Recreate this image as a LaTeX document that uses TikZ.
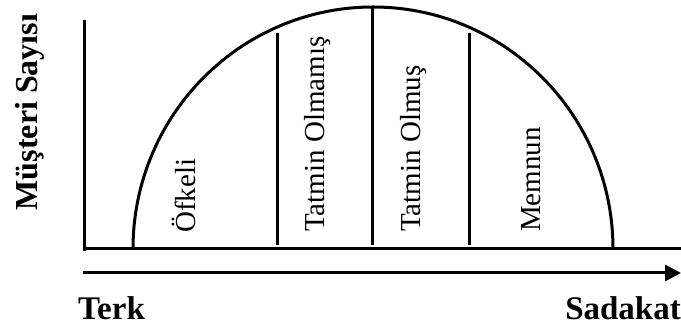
\documentclass[tikz,border=0pt]{standalone}
\usepackage{fontspec}
\setmainfont{Liberation Serif}
\usetikzlibrary{arrows.meta}
\begin{document}
\begin{tikzpicture}[x=1pt,y=1pt,
  axisline/.style={line width=3pt},
  divline/.style={line width=3pt},
  curveline/.style={line width=3pt},
  zonelabel/.style={rotate=90,anchor=base west,inner sep=0pt,font=\fontsize{29}{29}\selectfont},
  axislabel/.style={inner sep=0pt,font=\bfseries\fontsize{33}{33}\selectfont}]
\useasboundingbox (0,0) rectangle (681,329);
% axes
\coordinate (ytop) at (84,309);
\coordinate (ybot) at (84,78);
\coordinate (xl) at (84,80);
\coordinate (xr) at (681,80);
\coordinate (al) at (83,56);
\coordinate (ar) at (681,56);
\draw[axisline] (ytop) -- (ybot);
\draw[axisline] (xl) -- (xr);
\draw[line width=3pt,-{Triangle[length=16pt,width=16pt]}] (al) -- (ar);
% curve
\coordinate (cl) at (133,80);
\draw[curveline] (cl) arc[start angle=180,end angle=0,x radius=240,y radius=242];
% dividers
\coordinate (d1t) at (277,296); \coordinate (d1b) at (277,84);
\coordinate (d2t) at (372,323); \coordinate (d2b) at (372,84);
\coordinate (d3t) at (469,296); \coordinate (d3b) at (469,84);
\draw[divline] (d1t) -- (d1b);
\draw[divline] (d2t) -- (d2b);
\draw[divline] (d3t) -- (d3b);
% zone labels
\node[zonelabel] (z1) at (195,96) {Öfkeli};
\node[zonelabel] (z2) at (324,97) {Tatmin Olmamış};
\node[zonelabel] (z3) at (420,97) {Tatmin Olmuş};
\node[zonelabel] (z4) at (540,97) {Memnun};
% axis labels
\node[axislabel,rotate=90,anchor=base,font=\bfseries\fontsize{32}{32}\selectfont] (ylab) at (37,217) {Müşteri Sayısı};
\node[axislabel,anchor=base west] (terk) at (78,9) {Terk};
\node[axislabel,anchor=base east] (sad) at (681,9) {Sadakat};
\end{tikzpicture}
\end{document}
